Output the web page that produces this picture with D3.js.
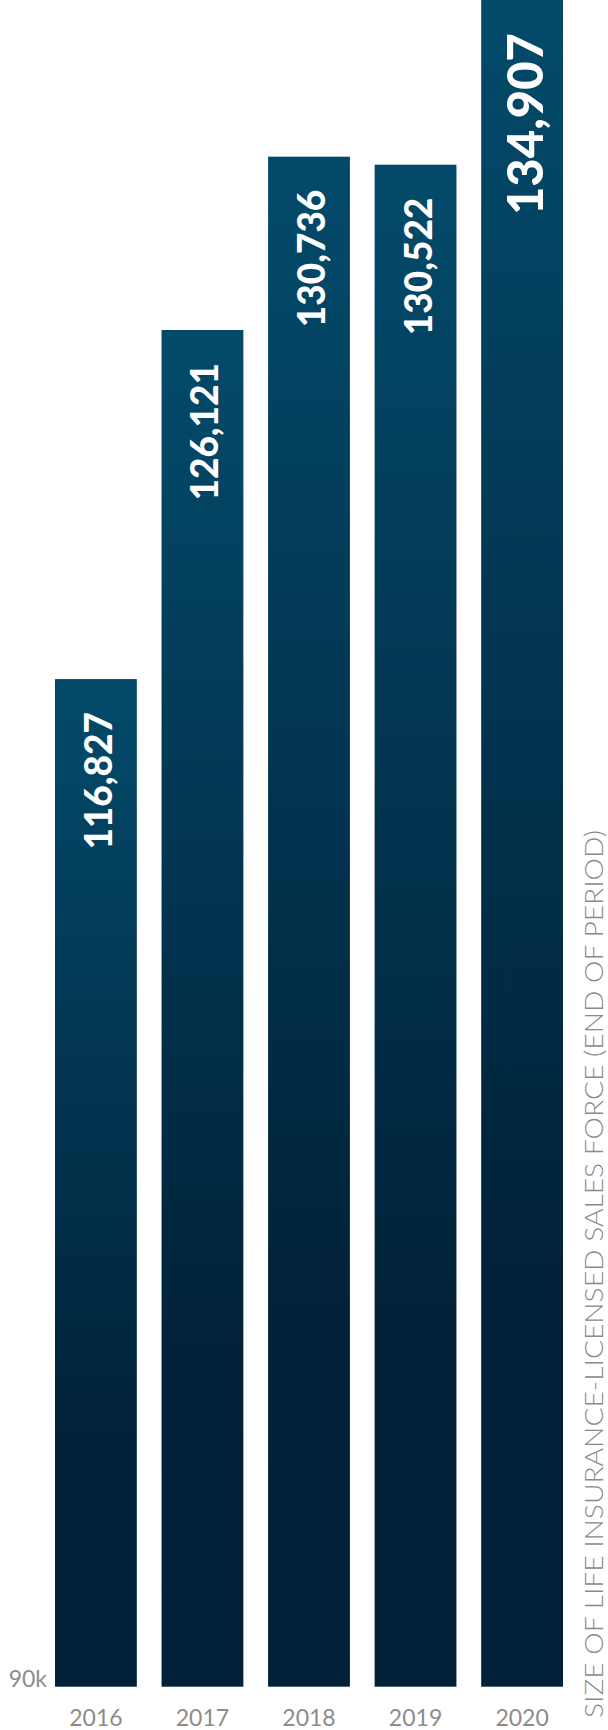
<!DOCTYPE html>
<html>
<head>
<meta charset="utf-8">
<script src="https://cdn.jsdelivr.net/npm/d3@7"></script>
<style>
	html, body { margin: 0; padding: 0; background: #fff; }
	svg { display: block; }
</style>
</head>
<body>
<svg id="viz" width="608" height="1730"></svg>
<script>
// chart values
let years = ["2016", "2017", "2018", "2019", "2020"];
let salesForce = [116827, 126121, 130736, 130522, 134907];
let baseTick = [90000];
let axisTitle = "SIZE OF LIFE INSURANCE-LICENSED SALES FORCE (END OF PERIOD)";

let width = 608;
let height = 1730;
let bottom = 1686.7;

function app() {
	let svg = d3.select('#viz');

	let x = d3.scaleBand()
		.domain(years)
		.range([55, 563])
		.paddingInner(0.232)
		.paddingOuter(0);

	let y = d3.scaleLinear()
		.domain([90000, d3.max(salesForce)])
		.range([bottom, 0]);

	// same gradient for each bar, light at the top
	let grad = svg.append('defs')
		.append('linearGradient')
		.attr('id', 'barGrad')
		.attr('x1', 0).attr('y1', 0)
		.attr('x2', 0).attr('y2', 1);
	grad.append('stop').attr('offset', '0%').attr('stop-color', '#034a6a');
	grad.append('stop').attr('offset', '75%').attr('stop-color', '#01223a');
	grad.append('stop').attr('offset', '100%').attr('stop-color', '#012138');

	let data = years.map((yr, i) => ({year: yr, value: salesForce[i], last: i == years.length - 1}));

	svg.selectAll('rect.bar')
		.data(data)
		.enter()
		.append('rect')
		.attr('class', 'bar')
		.attr('x', d => x(d.year))
		.attr('y', d => y(d.value))
		.attr('width', x.bandwidth())
		.attr('height', d => bottom - y(d.value))
		.attr('fill', 'url(#barGrad)');

	// value labels, rotated, read bottom to top
	svg.selectAll('text.val')
		.data(data)
		.enter()
		.append('text')
		.attr('class', 'val')
		.attr('transform', d => {
			let cx = x(d.year) + x.bandwidth() / 2 + (d.last ? 21 : 16);
			let cy = y(d.value) + 33;
			return 'translate(' + cx + ',' + cy + ') rotate(-90)';
		})
		.attr('text-anchor', 'end')
		.attr('font-family', 'Lato, sans-serif')
		.attr('font-weight', 900)
		.attr('font-size', d => d.last ? 49 : 37)
		.attr('fill', '#fff')
		.text(d => d3.format(',')(d.value));

	// year ticks
	let xAxis = svg.append('g')
		.attr('transform', 'translate(0,' + bottom + ')')
		.call(d3.axisBottom(x).tickSize(0).tickPadding(0));
	xAxis.select('.domain').remove();
	xAxis.selectAll('text')
		.attr('y', 39)
		.attr('dy', 0)
		.attr('font-family', 'Lato, sans-serif')
		.attr('font-weight', 400)
		.attr('font-size', 23)
		.attr('fill', '#8c8c8c');

	// the one y tick at the baseline
	let yAxis = svg.append('g')
		.attr('transform', 'translate(47,0)')
		.call(d3.axisLeft(y).tickValues(baseTick).tickSize(0).tickPadding(0)
			.tickFormat(d => d / 1000 + 'k'));
	yAxis.select('.domain').remove();
	yAxis.selectAll('text')
		.attr('dy', 0)
		.attr('font-family', 'Lato, sans-serif')
		.attr('font-weight', 400)
		.attr('font-size', 23)
		.attr('fill', '#8c8c8c');

	svg.append('text')
		.attr('transform', 'translate(603,1718) rotate(-90)')
		.attr('text-anchor', 'start')
		.attr('font-family', 'Lato, sans-serif')
		.attr('font-weight', 300)
		.attr('font-size', 25)
		.attr('fill', '#8a8a8a')
		.attr('textLength', 888)
		.attr('lengthAdjust', 'spacingAndGlyphs')
		.text(axisTitle);
}

app();
</script>
</body>
</html>
